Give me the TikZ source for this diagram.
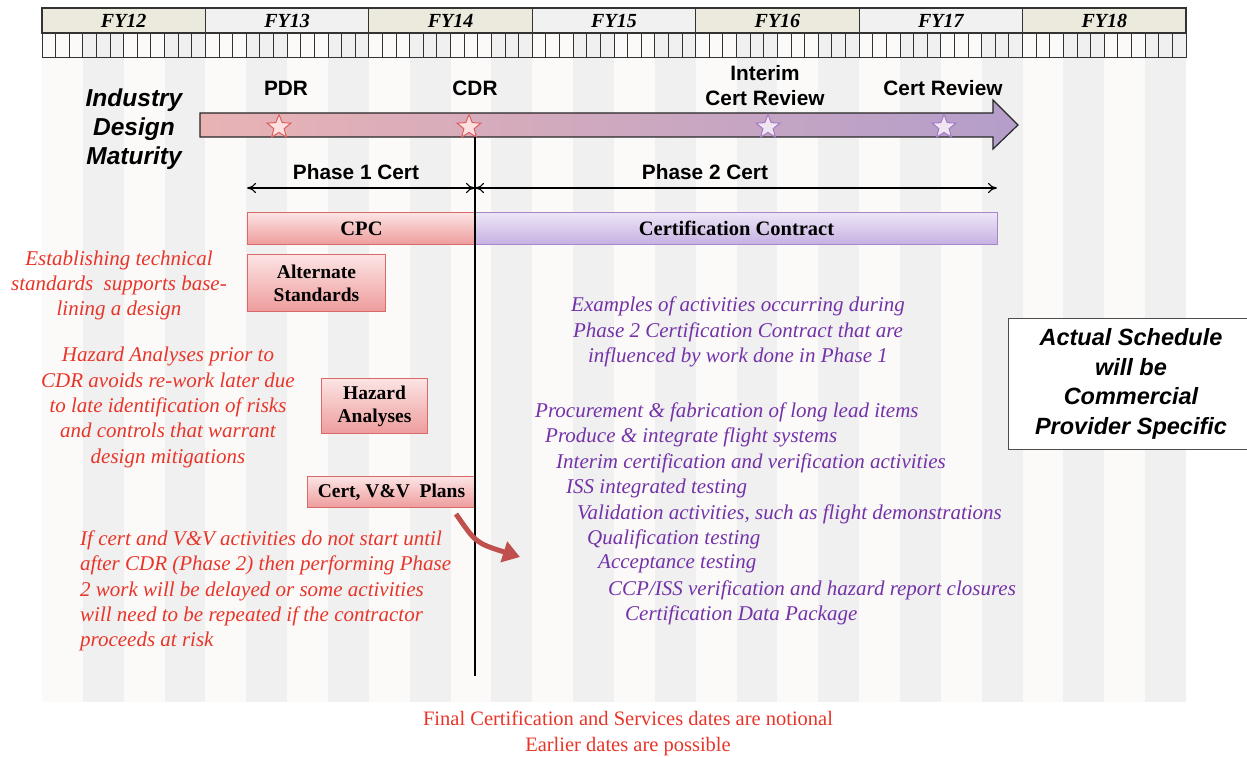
\documentclass[tikz,border=0pt]{standalone}
\usepackage{fontspec}
\setmainfont{Liberation Serif}
\setsansfont{Liberation Sans}
\usetikzlibrary{shapes.geometric,arrows.meta}
\definecolor{stripeA}{HTML}{FBFAF8}
\definecolor{stripeB}{HTML}{F0F0F0}
\definecolor{yearA}{HTML}{ECE9DD}
\definecolor{yearB}{HTML}{F1F1F1}
\definecolor{redc}{HTML}{E8352A}
\definecolor{purc}{HTML}{7432A8}
\definecolor{redline}{HTML}{D86A6A}
\definecolor{purline}{HTML}{A588CC}
\definecolor{arrowred}{HTML}{C0504D}
\definecolor{matL}{HTML}{E9B3B4}
\definecolor{matR}{HTML}{B49ECA}
\definecolor{rboxT}{HTML}{FCE4E4}
\definecolor{rboxB}{HTML}{EE9C9C}
\definecolor{pboxT}{HTML}{EEE6F6}
\definecolor{pboxB}{HTML}{C6B0E2}
\tikzset{
  yearbox/.style={draw=black!80, line width=1.1pt},
  monthcell/.style={draw=black!80, line width=1pt},
  yearlbl/.style={font=\fontsize{20}{22}\selectfont\bfseries\itshape, inner sep=0},
  mslbl/.style={font=\sffamily\bfseries\fontsize{20.8}{25}\selectfont, align=center, inner sep=0},
  redtxt/.style={text=redc, font=\fontsize{21}{25.3}\selectfont\itshape, align=center, inner sep=0},
  purtxt/.style={text=purc, font=\fontsize{21}{25.3}\selectfont\itshape, inner sep=0},
  redbox/.style={draw=redline, line width=1pt, top color=rboxT, bottom color=rboxB, font=\fontsize{19.5}{23}\selectfont\bfseries, align=center},
  purbox/.style={draw=purline, line width=1pt, top color=pboxT, bottom color=pboxB},
  redstar/.style={star, star points=5, star point ratio=2.3, minimum size=25pt, inner sep=0, draw=redline!90!red, fill=red!12, line width=1pt},
  purstar/.style={star, star points=5, star point ratio=2.3, minimum size=25pt, inner sep=0, draw=purline!90!violet, fill=violet!10, line width=1pt},
  phasearrow/.style={{To[length=9pt,width=10pt]}-{To[length=9pt,width=10pt]}, line width=1.1pt},
}
\begin{document}
\begin{tikzpicture}[x=1pt,y=-1pt]
\useasboundingbox (0,0) rectangle (1247,757);
\fill[white] (0,0) rectangle (1247,757);
% background stripes
\foreach \i in {0,...,27}{
  \pgfmathsetmacro{\xa}{42+\i*40.857}
  \pgfmathsetmacro{\xb}{42+(\i+1)*40.857}
  \pgfmathtruncatemacro{\pp}{mod(\i,2)}
  \ifnum\pp=0 \fill[stripeA] (\xa,58) rectangle (\xb,702);
  \else \fill[stripeB] (\xa,58) rectangle (\xb,702); \fi
}
% month cells
\foreach \i in {0,...,83}{
  \pgfmathsetmacro{\xa}{42+\i*13.619}
  \pgfmathsetmacro{\xb}{42+(\i+1)*13.619}
  \pgfmathtruncatemacro{\q}{mod(floor(\i/3),2)}
  \ifnum\q=0 \filldraw[monthcell, fill=stripeA] (\xa,33) rectangle (\xb,58);
  \else \filldraw[monthcell, fill=stripeB] (\xa,33) rectangle (\xb,58); \fi
}
% year boxes
\foreach \i/\lab in {0/FY12,1/FY13,2/FY14,3/FY15,4/FY16,5/FY17,6/FY18}{
  \pgfmathsetmacro{\xa}{42+\i*163.43}
  \pgfmathsetmacro{\xb}{42+(\i+1)*163.43}
  \pgfmathsetmacro{\xc}{42+(\i+0.5)*163.43}
  \pgfmathtruncatemacro{\pp}{mod(\i,2)}
  \ifnum\pp=0 \filldraw[yearbox, fill=yearA] (\xa,8) rectangle (\xb,33);
  \else \filldraw[yearbox, fill=yearB] (\xa,8) rectangle (\xb,33); \fi
  \node[yearlbl] (y\lab) at (\xc,21) {\lab};
}
% maturity arrow
\shade[left color=matL, right color=matR, draw=black!85, line width=1.2pt]
  (200,113) -- (993,113) -- (993,100) -- (1018,125) -- (993,149) -- (993,137) -- (200,137) -- cycle;
\node[font=\sffamily\bfseries\itshape\fontsize{24.5}{29}\selectfont, align=center, inner sep=0] (idm) at (134,129) {Industry\\Design\\Maturity};
% milestones
\node[mslbl] (pdr) at (286,88) {PDR};
\node[mslbl] (cdr) at (475,88) {CDR};
\node[mslbl] (icr) at (765,86) {Interim\\Cert Review};
\node[mslbl] (cr) at (943,88) {Cert Review};
\node[redstar] (s1) at (279,127) {};
\node[redstar] (s2) at (469,127) {};
\node[purstar] (s3) at (768,127) {};
\node[purstar] (s4) at (944,127) {};
% CDR line
\coordinate (ltop) at (475,137);
\coordinate (lbot) at (475,676);
% phase arrows
\coordinate (p1a) at (247,188);
\coordinate (p1b) at (475,188);
\coordinate (p2b) at (997,188);
\draw[phasearrow] (p1a) -- (p1b);
\draw[phasearrow] (p1b) -- (p2b);
\node[mslbl] (ph1) at (356,172) {Phase 1 Cert};
\node[mslbl] (ph2) at (705,172) {Phase 2 Cert};
% contract boxes
\node[redbox, minimum width=228pt, minimum height=32pt, inner sep=0, anchor=north west, font=\fontsize{20.5}{23}\selectfont\bfseries] (cpc) at (247,212) {CPC};
\node[purbox, minimum width=522pt, minimum height=32pt, inner sep=0, anchor=north west, font=\fontsize{20.5}{23}\selectfont\bfseries] (cc) at (475,212) {Certification Contract};
\node[redbox, minimum width=138pt, minimum height=57pt, inner sep=0, anchor=north west] (alt) at (247,254) {Alternate\\Standards};
\node[redbox, minimum width=106pt, minimum height=55pt, inner sep=0, anchor=north west] (haz) at (321,378) {Hazard\\Analyses};
\node[redbox, minimum width=168pt, minimum height=31pt, inner sep=0, anchor=north west] (vv) at (307,476) {Cert, V\&V~~Plans};
\draw[line width=2.4pt] (ltop) -- (lbot);
% red curved arrow
\coordinate (ca) at (456,514);
\coordinate (cb) at (520,557);
\draw[arrowred, line width=5pt, -{Triangle[length=17pt,width=21pt]}] (ca) .. controls (476,543) .. (cb);
% left red notes
\node[redtxt] (n1) at (119,285.5) {Establishing technical\\standards~~supports base-\\lining a design};
\node[redtxt] (n2) at (168,407.5) {Hazard Analyses prior to\\CDR avoids re-work later due\\to late identification of risks\\and controls that warrant\\design mitigations};
\node[redtxt, align=left, anchor=west] (n3) at (80,591) {If cert and V\&V activities do not start until\\after CDR (Phase 2) then performing Phase\\2 work will be delayed or some activities\\will need to be repeated if the contractor\\proceeds at risk};
% purple notes
\node[purtxt, align=center] (ex) at (738,332) {Examples of activities occurring during\\Phase 2 Certification Contract that are\\influenced by work done in Phase 1};
\node[purtxt, anchor=west] (a1) at (535,412) {Procurement \& fabrication of long lead items};
\node[purtxt, anchor=west] (a2) at (545,437) {Produce \& integrate flight systems};
\node[purtxt, anchor=west] (a3) at (556,463) {Interim certification and verification activities};
\node[purtxt, anchor=west] (a4) at (566,488) {ISS integrated testing};
\node[purtxt, anchor=west] (a5) at (577,514) {Validation activities, such as flight demonstrations};
\node[purtxt, anchor=west] (a6) at (587,539) {Qualification testing};
\node[purtxt, anchor=west] (a7) at (598,564) {Acceptance testing};
\node[purtxt, anchor=west] (a8) at (608,590) {CCP/ISS verification and hazard report closures};
\node[purtxt, anchor=west] (a9) at (625,615) {Certification Data Package};
% right box
\draw[draw=black!70, fill=white, line width=1pt] (1008,318) rectangle (1252,449);
\node[font=\sffamily\bfseries\itshape\fontsize{23.5}{29.5}\selectfont, align=center, inner sep=0] (act) at (1131,384) {Actual Schedule\\will be\\Commercial\\Provider Specific};
% bottom note
\node[text=redc, font=\fontsize{20.5}{26}\selectfont, align=center, inner sep=0] (bot) at (628,733) {Final Certification and Services dates are notional\\Earlier dates are possible};
\end{tikzpicture}
\end{document}
